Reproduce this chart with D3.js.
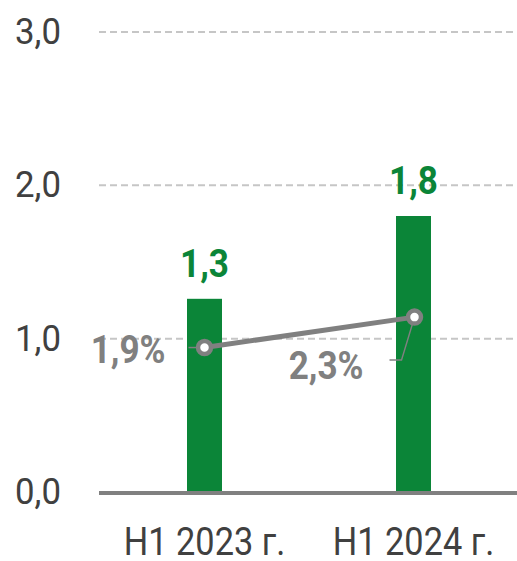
<!DOCTYPE html>
<html>
<head>
<meta charset="utf-8">
<script src="https://cdn.jsdelivr.net/npm/d3@7"></script>
<style>
  body { margin: 0; background: #fff; }
  svg { display: block; font-family: Roboto, "Noto Sans", sans-serif; }
</style>
</head>
<body>
<div id="chart"></div>
<script>
// chart data
var categories = ["H1 2023 г.", "H1 2024 г."];
var volumes = [1.26, 1.8];
var volumeLabels = ["1,3", "1,8"];
var shares = [1.9, 2.3];
var shareLabels = ["1,9%", "2,3%"];
var yTicks = [0, 1, 2, 3];

var width = 517, height = 561;
var plotLeft = 99, plotRight = 517, plotTop = 32, plotBottom = 492;
var green = "#0b8538", grey = "#808080";

var svg = d3.select("#chart")
  .append("svg")
  .attr("width", width)
  .attr("height", height);

// scales
var xScale = d3.scalePoint()
  .domain(categories)
  .range([plotLeft, plotRight])
  .padding(0.5);
var yScale = d3.scaleLinear()
  .domain([0, 3])
  .range([plotBottom, plotTop]);
// hidden secondary axis for the percentage line
var yShare = d3.scaleLinear()
  .domain([0, 6.05])
  .range([plotBottom, plotTop]);

// text squeezed horizontally to look like a condensed face
function label(parent, x, y, str, opts) {
  var g = parent.append("g")
    .attr("transform", "translate(" + x + "," + y + ") scale(" + (opts.sx || 1) + ",1)");
  return g.append("text")
    .attr("text-anchor", opts.anchor || "start")
    .style("font-size", opts.size + "px")
    .style("font-weight", opts.weight || "normal")
    .style("fill", opts.fill)
    .text(str);
}

// dashed grid lines
svg.append("g")
  .selectAll("line")
  .data(yTicks.filter(function (d) { return d > 0; }))
  .enter()
  .append("line")
  .attr("x1", plotLeft)
  .attr("x2", plotRight)
  .attr("y1", function (d) { return yScale(d); })
  .attr("y2", function (d) { return yScale(d); })
  .style("stroke", "#c6c6c6")
  .style("stroke-width", 2)
  .style("stroke-dasharray", "7, 4");

// y tick labels
yTicks.forEach(function (d) {
  label(svg, 15, yScale(d) + 12, d3.format(".1f")(d).replace(".", ","),
    { size: 37, fill: "#404040", sx: 0.94 });
});

// bars
var barWidth = 35;
svg.append("g")
  .selectAll("rect")
  .data(volumes)
  .enter()
  .append("rect")
  .attr("x", function (d, i) { return xScale(categories[i]) - barWidth / 2 + 1; })
  .attr("y", function (d) { return yScale(d); })
  .attr("width", barWidth)
  .attr("height", function (d) { return plotBottom - yScale(d); })
  .style("fill", green);

// baseline
svg.append("line")
  .attr("x1", plotLeft)
  .attr("x2", plotRight)
  .attr("y1", plotBottom + 1)
  .attr("y2", plotBottom + 1)
  .style("stroke", grey)
  .style("stroke-width", 4);

// bar value labels
volumes.forEach(function (d, i) {
  label(svg, xScale(categories[i]) + 1, yScale(d) - 22, volumeLabels[i],
    { size: 39, weight: "bold", fill: green, anchor: "middle", sx: 0.9 });
});

// category labels
categories.forEach(function (d) {
  label(svg, xScale(d) + 1, 555, d,
    { size: 39, fill: "#404040", anchor: "middle", sx: 0.88 });
});

// leader lines for the share labels
var p0 = [xScale(categories[0]) + 1, yShare(shares[0])];
var p1 = [xScale(categories[1]) + 2, yShare(shares[1])];
svg.append("line")
  .attr("x1", p0[0] - 16).attr("y1", p0[1])
  .attr("x2", p0[0]).attr("y2", p0[1])
  .style("stroke", grey).style("stroke-width", 1.5);
svg.append("polyline")
  .attr("points", [[p1[0] - 25, p1[1] + 43], [p1[0] - 13, p1[1] + 43], p1].join(" "))
  .style("fill", "none")
  .style("stroke", grey)
  .style("stroke-width", 1.5);

// share line
var line = d3.line()
  .x(function (d, i) { return xScale(categories[i]) + 1 + i; })
  .y(function (d) { return yShare(d); });
svg.append("path")
  .datum(shares)
  .attr("d", line)
  .style("fill", "none")
  .style("stroke", grey)
  .style("stroke-width", 5);

svg.append("g")
  .selectAll("circle")
  .data(shares)
  .enter()
  .append("circle")
  .attr("cx", function (d, i) { return xScale(categories[i]) + 1 + i; })
  .attr("cy", function (d) { return yShare(d); })
  .attr("r", 6.5)
  .style("fill", "#fff")
  .style("stroke", grey)
  .style("stroke-width", 4.5);

// share labels
label(svg, p0[0] - 39, p0[1] + 15, shareLabels[0],
  { size: 39, weight: "bold", fill: grey, anchor: "end", sx: 0.9 });
label(svg, p1[0] - 51, p1[1] + 62, shareLabels[1],
  { size: 39, weight: "bold", fill: grey, anchor: "end", sx: 0.9 });
</script>
</body>
</html>
